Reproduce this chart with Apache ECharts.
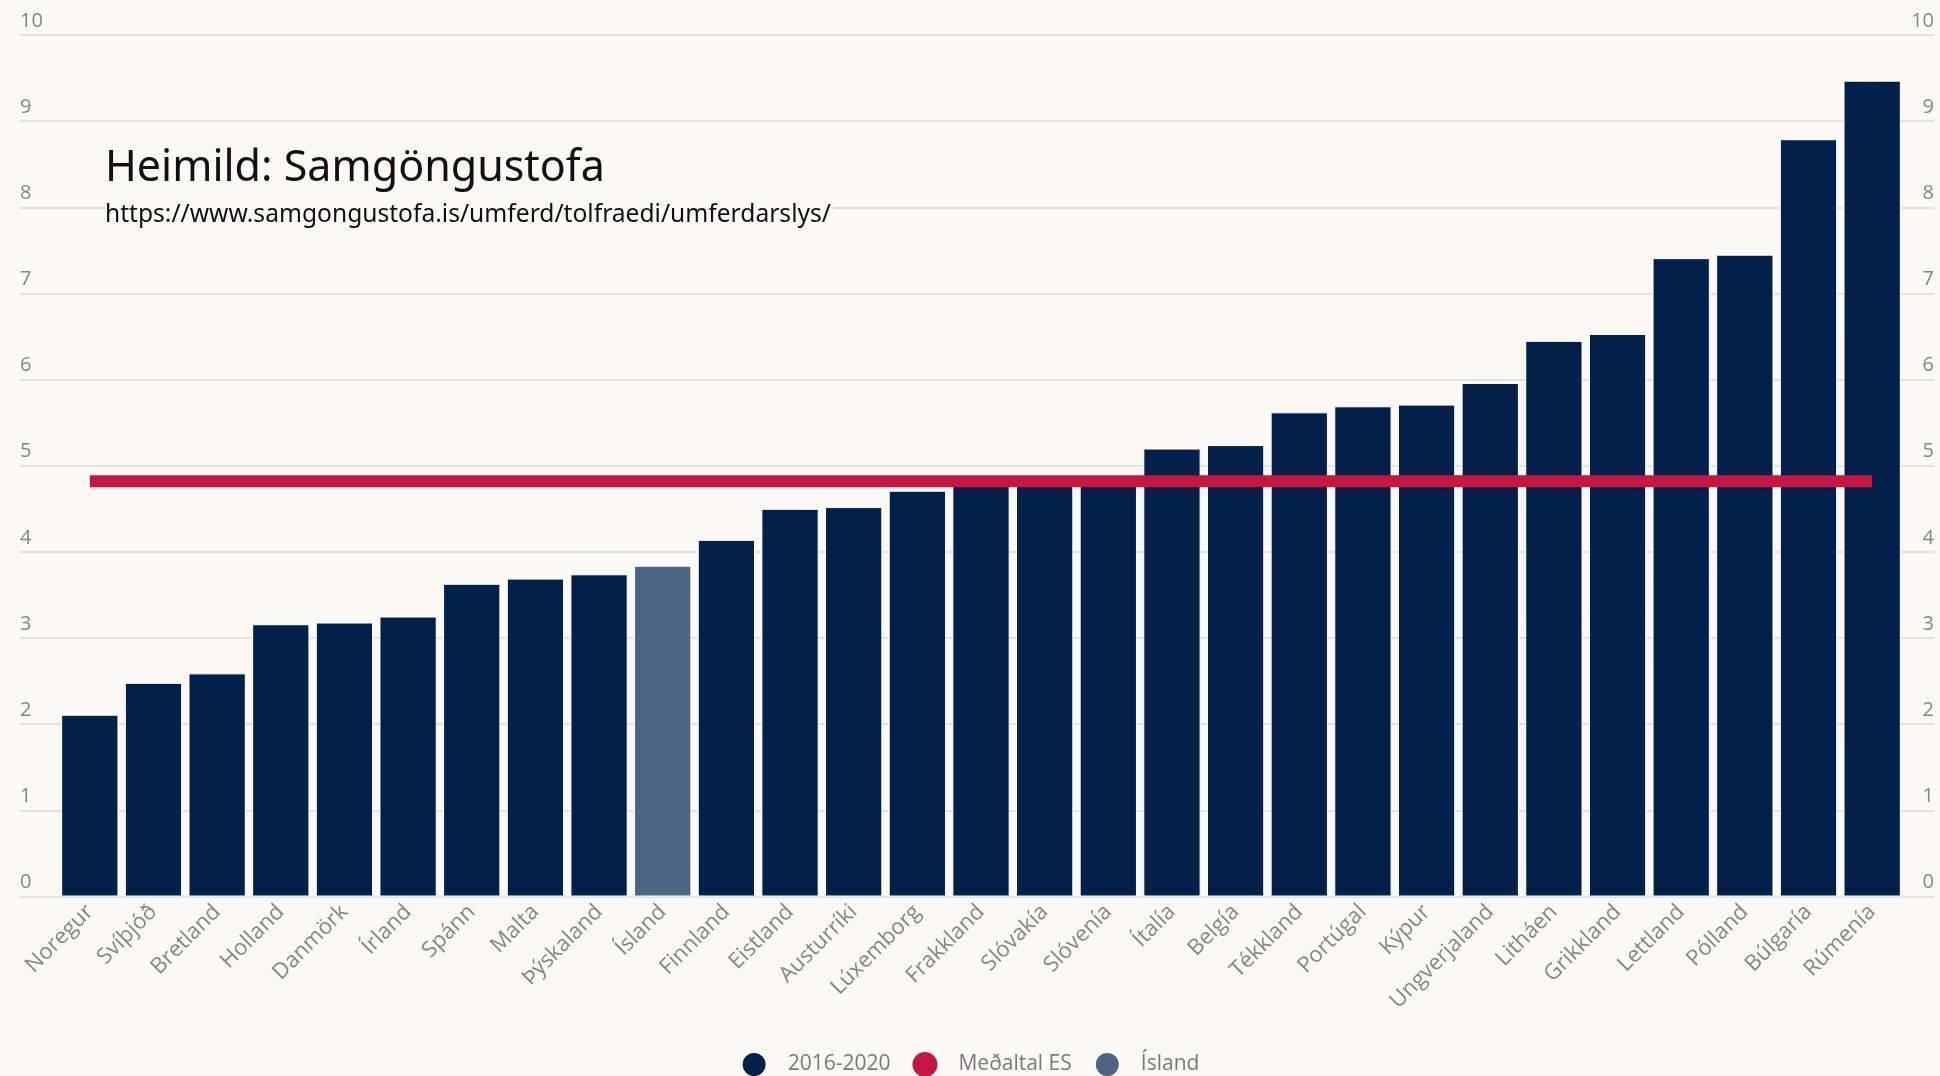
<!DOCTYPE html>
<html>
<head>
<meta charset="utf-8">
<script src="https://cdn.jsdelivr.net/npm/echarts@6/dist/echarts.min.js"></script>
<style>
html,body{margin:0;padding:0;background:#fbf9f4;}
#c{width:1940px;height:1076px;}
</style>
</head>
<body>
<div id="c"></div>
<script>
const categories = ['Noregur','Svíþjóð','Bretland','Holland','Danmörk','Írland','Spánn','Malta','Þýskaland','Ísland','Finnland','Eistland','Austurríki','Lúxemborg','Frakkland','Slóvakía','Slóvenía','Ítalía','Belgía','Tékkland','Portúgal','Kýpur','Ungverjaland','Litháen','Grikkland','Lettland','Pólland','Búlgaría','Rúmenía'];
const values2016_2020 = [2.11,2.48,2.59,3.16,3.18,3.25,3.63,3.69,3.74,'-',4.14,4.50,4.52,4.71,4.80,4.84,4.86,5.20,5.24,5.62,5.69,5.71,5.96,6.45,6.53,7.41,7.45,8.79,9.47];
const valuesIsland = ['-','-','-','-','-','-','-','-','-',3.84,'-','-','-','-','-','-','-','-','-','-','-','-','-','-','-','-','-','-','-'];
const euAverage = 4.82;
const euAverageLine = categories.map(() => euAverage);
const yTicks = [0,1,2,3,4,5,6,7,8,9,10];

const chart = echarts.init(document.getElementById('c'));
const labelColor = '#868686';
const font = 'Open Sans';
const bg = '#fbf9f4';
chart.setOption({
  backgroundColor: bg,
  animation: false,
  grid: [
    {left: 58, right: 36, top: 35, bottom: 179.5},
    {left: 20, right: 6, top: 35, bottom: 179.5}
  ],
  xAxis: [
    {type: 'category', gridIndex: 0, data: categories,
     axisLine: {show: false}, axisTick: {show: false},
     axisLabel: {rotate: 45, interval: 0, margin: 12, fontSize: 22, color: labelColor, fontFamily: font}},
    {type: 'value', gridIndex: 1, min: 0, max: 1, show: false}
  ],
  yAxis: [
    {type: 'value', gridIndex: 0, min: 0, max: 10, interval: 1, show: false},
    {type: 'value', gridIndex: 1, min: 0, max: 10, interval: 1, position: 'left',
     axisLine: {show: false}, axisTick: {show: false},
     splitLine: {show: true, lineStyle: {color: '#e4e2dd', width: 2}},
     axisLabel: {inside: true, margin: 0, align: 'left', verticalAlign: 'bottom', padding: [0,0,4,0],
       fontSize: 20, color: labelColor, fontFamily: font,
       formatter: v => yTicks.includes(v) ? String(v) : ''}},
    {type: 'value', gridIndex: 1, min: 0, max: 10, interval: 1, position: 'right',
     axisLine: {show: false}, axisTick: {show: false}, splitLine: {show: false},
     axisLabel: {inside: true, margin: 0, align: 'right', verticalAlign: 'bottom', padding: [0,0,4,0],
       fontSize: 20, color: labelColor, fontFamily: font,
       formatter: v => yTicks.includes(v) ? String(v) : ''}}
  ],
  legend: {
    top: 1046, left: 'center', icon: 'circle', itemWidth: 25, itemHeight: 25, itemGap: 22,
    textStyle: {fontSize: 21, color: '#7a7a7a', fontFamily: font, padding: [0,0,0,16]},
    data: ['2016-2020','Meðaltal ES','Ísland']
  },
  graphic: [
    {type: 'text', left: 105, top: 147, z: 10, style: {text: 'Heimild: Samgöngustofa', fontSize: 43, fontFamily: 'Noto Sans', fill: '#111'}},
    {type: 'text', left: 105, top: 200, z: 10, style: {text: 'https://www.samgongustofa.is/umferd/tolfraedi/umferdarslys/', fontSize: 24.6, fontFamily: 'Noto Sans', fill: '#111', backgroundColor: bg, padding: [2, 2, 2, 0]}}
  ],
  series: [
    {name: '2016-2020', type: 'bar', xAxisIndex: 0, yAxisIndex: 0, data: values2016_2020,
     barCategoryGap: '10%', barGap: '-100%',
     itemStyle: {color: '#02204a', borderColor: '#ffffff', borderWidth: 1}},
    {name: 'Ísland', type: 'bar', xAxisIndex: 0, yAxisIndex: 0, data: valuesIsland,
     barCategoryGap: '10%', barGap: '-100%',
     itemStyle: {color: '#4c6582', borderColor: '#ffffff', borderWidth: 1}},
    {name: 'Meðaltal ES', type: 'line', xAxisIndex: 0, yAxisIndex: 0, data: euAverageLine,
     showSymbol: false, symbol: 'circle', z: 5,
     itemStyle: {color: '#c5173f'},
     lineStyle: {color: '#c5173f', width: 12}}
  ]
});
</script>
</body>
</html>
